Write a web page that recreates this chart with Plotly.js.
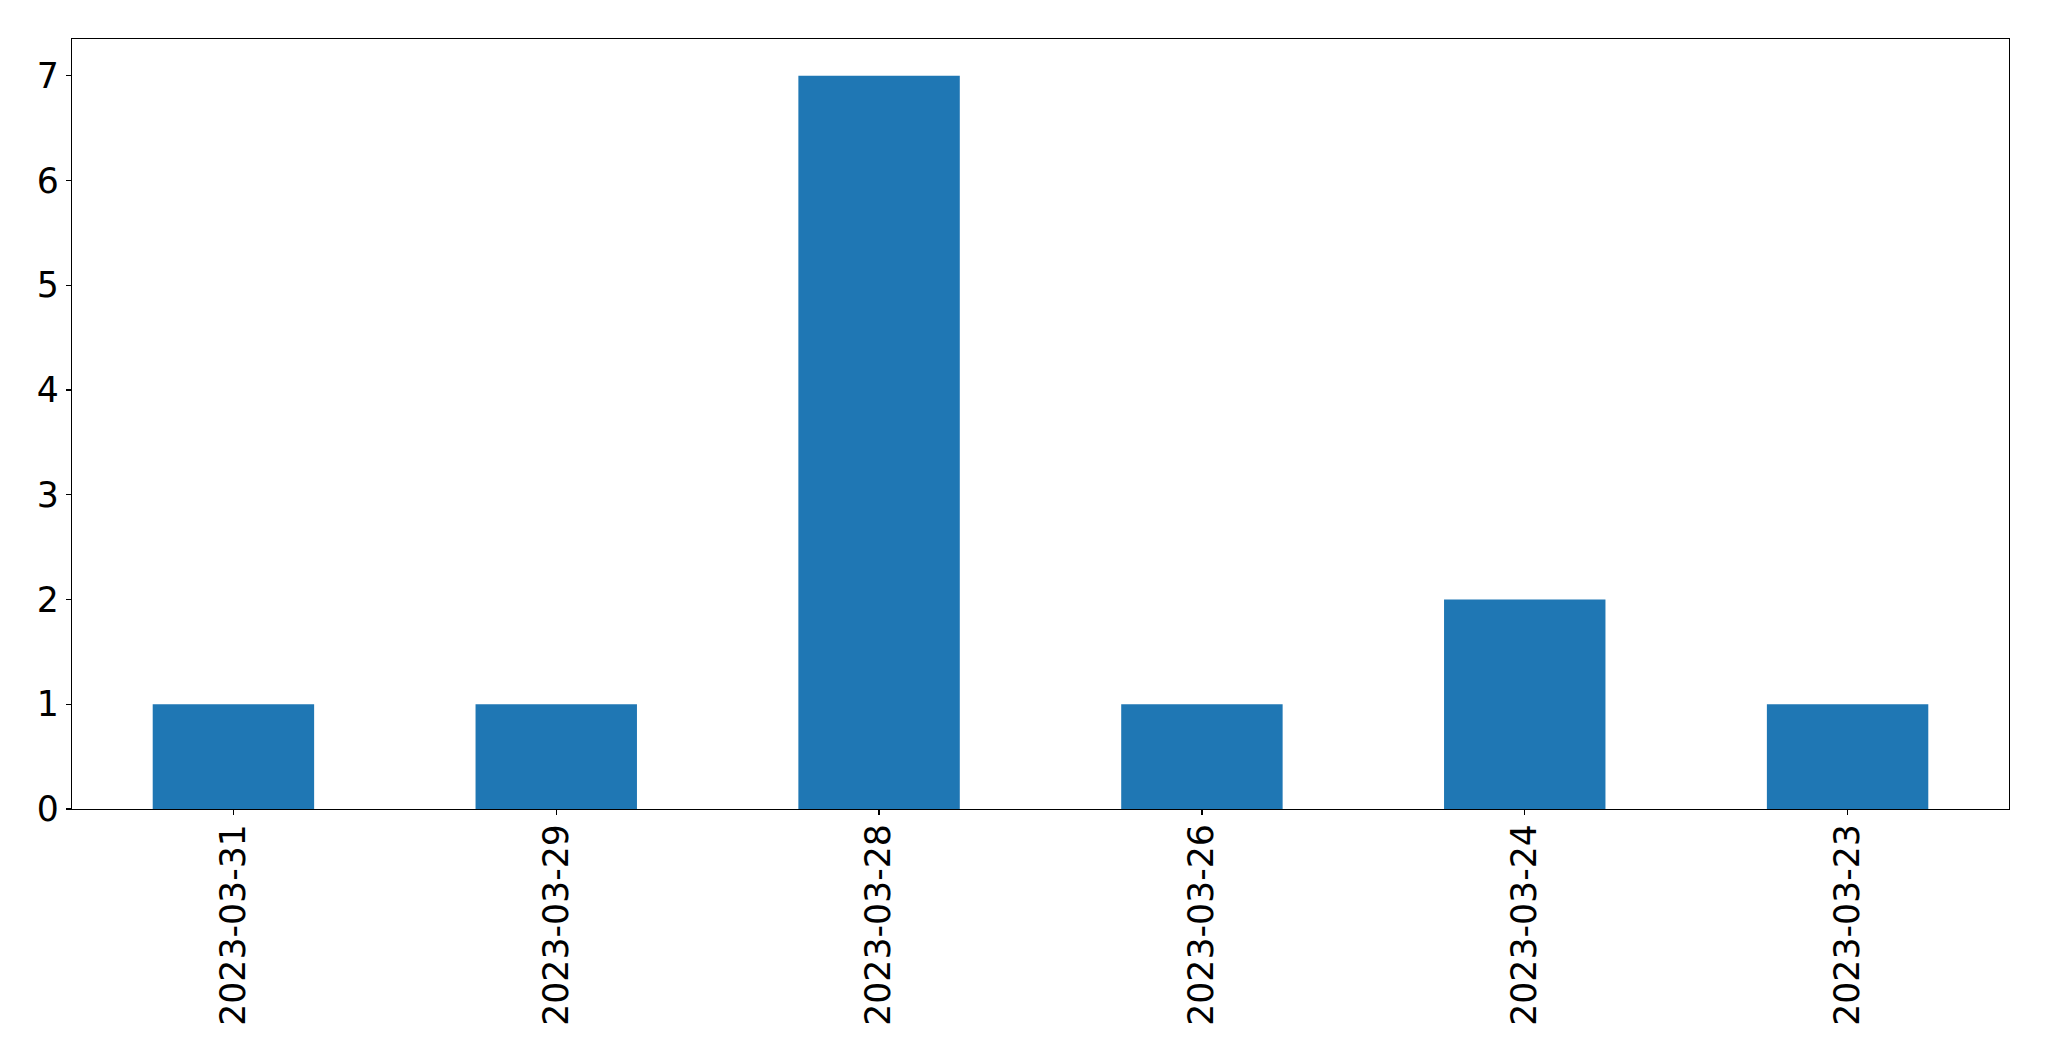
<!DOCTYPE html>
<html>
<head>
<meta charset="utf-8">
<script src="https://cdn.plot.ly/plotly-3.0.1.min.js"></script>
<style>html,body{margin:0;padding:0;background:#fff;}#chart{width:2049px;height:1061px;}</style>
</head>
<body>
<div id="chart"></div>
<script>
const categories = ["2023-03-31", "2023-03-29", "2023-03-28", "2023-03-26", "2023-03-24", "2023-03-23"];
const counts = [1, 1, 7, 1, 2, 1];
const yTicks = [0, 1, 2, 3, 4, 5, 6, 7];

const trace = {
  type: 'bar',
  x: categories,
  y: counts,
  width: 0.5,
  marker: {color: '#1f77b4', line: {width: 0}},
  hoverinfo: 'x+y'
};

const axisFont = {family: 'DejaVu Sans, sans-serif', size: 34.7, color: '#000'};

const layout = {
  width: 2049,
  height: 1061,
  margin: {l: 72, r: 40, t: 39, b: 252, pad: 0},
  paper_bgcolor: '#fff',
  plot_bgcolor: '#fff',
  showlegend: false,
  bargap: 0.5,
  xaxis: {
    type: 'category',
    range: [-0.5, 5.5],
    tickangle: -90,
    tickfont: axisFont,
    ticks: 'outside',
    ticklen: 5,
    tickwidth: 1.3,
    tickcolor: '#000',
    ticklabelstandoff: -5,
    showline: true,
    linecolor: '#000',
    linewidth: 1.3,
    mirror: true,
    showgrid: false,
    zeroline: false,
    automargin: false
  },
  yaxis: {
    range: [0, 7.35],
    tickvals: yTicks,
    ticktext: yTicks.map(String),
    tickfont: axisFont,
    ticks: 'outside',
    ticklen: 5,
    tickwidth: 1.3,
    tickcolor: '#000',
    showline: true,
    linecolor: '#000',
    linewidth: 1.3,
    mirror: true,
    showgrid: false,
    zeroline: false,
    automargin: false
  }
};

Plotly.newPlot('chart', [trace], layout, {displayModeBar: false, staticPlot: true});
</script>
</body>
</html>
